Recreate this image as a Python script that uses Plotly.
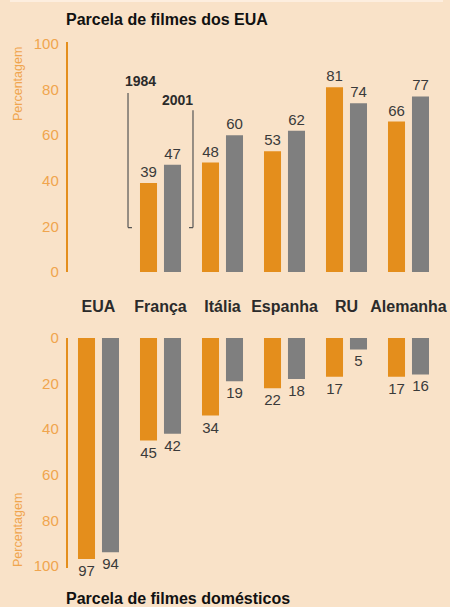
import plotly.graph_objects as go

categories = ["EUA", "França", "Itália", "Espanha", "RU", "Alemanha"]
us_share_1984 = [None, 39, 48, 53, 81, 66]
us_share_2001 = [None, 47, 60, 62, 74, 77]
dom_share_1984 = [97, 45, 34, 22, 17, 17]
dom_share_2001 = [94, 42, 19, 18, 5, 16]
years = ["1984", "2001"]
tick_vals = [0, 20, 40, 60, 80, 100]
title_top = "Parcela de filmes dos EUA"
title_bottom = "Parcela de filmes domésticos"
axis_title = "Percentagem"

ORANGE = "#e48e1c"
GRAY = "#7f7f7f"
BG = "#f9e2c8"
TICK = "#f0a54e"
DARK = "#2b2b2b"
VAL = "#3a3a3a"
NARROW = "Liberation Sans Narrow, Arial Narrow, Liberation Sans, sans-serif"
SANS = "Liberation Sans, Arial, sans-serif"

H = 607.0
W = 450.0


def lbl(vals):
    return ["" if v is None else str(v) for v in vals]


fig = go.Figure()
for vals, col, name in [(us_share_1984, ORANGE, years[0]), (us_share_2001, GRAY, years[1])]:
    fig.add_trace(go.Bar(x=categories, y=vals, name=name, marker=dict(color=col, line=dict(width=0)),
                         text=lbl(vals), textposition="outside", cliponaxis=False,
                         constraintext="none",
                         textfont=dict(family=NARROW, size=15, color=VAL),
                         xaxis="x", yaxis="y", hoverinfo="skip"))
for vals, col, name in [(dom_share_1984, ORANGE, years[0]), (dom_share_2001, GRAY, years[1])]:
    fig.add_trace(go.Bar(x=categories, y=vals, name=name, marker=dict(color=col, line=dict(width=0)),
                         text=lbl(vals), textposition="outside", cliponaxis=False,
                         constraintext="none",
                         textfont=dict(family=NARROW, size=15, color=VAL),
                         xaxis="x2", yaxis="y2", hoverinfo="skip"))

xdom = [67.5 / W, 439.5 / W]
top_dom = [1 - 272 / H, 1 - 42 / H]
bot_dom = [1 - 568 / H, 1 - 338 / H]

common_y = dict(tickvals=tick_vals, showgrid=False, zeroline=False, showline=True,
                linecolor=ORANGE, linewidth=1.5, ticks="", automargin=False,
                tickfont=dict(family=NARROW, size=15, color=TICK), ticklabelstandoff=4)

fig.update_layout(
    template="none",
    width=450, height=607, autosize=False,
    margin=dict(l=0, r=0, t=0, b=0, pad=0),
    paper_bgcolor=BG, plot_bgcolor=BG,
    barmode="group", bargap=0.226, bargroupgap=0.29,
    showlegend=False,
    xaxis=dict(domain=xdom, anchor="y", type="category", range=[-0.5, 5.5], automargin=False,
               showticklabels=False, showgrid=False, zeroline=False, showline=False, ticks=""),
    yaxis=dict(domain=top_dom, anchor="x", range=[0, 100.9], **common_y),
    xaxis2=dict(domain=xdom, anchor="y2", type="category", range=[-0.5, 5.5], side="top",
                showgrid=False, zeroline=False, showline=False, ticks="", automargin=False,
                tickfont=dict(family=SANS, size=16, color=DARK, weight="bold"),
                ticklabelstandoff=22),
    yaxis2=dict(domain=bot_dom, anchor="x2", range=[100.9, 0], **common_y),
)

# brackets for the years
bracket = dict(color="#555555", width=1.2)
shapes = [
    dict(type="line", xref="x", yref="y", x0=0.476, x1=0.476, y0=19.5, y1=78.5, line=bracket),
    dict(type="line", xref="x", yref="y", x0=0.476, x1=0.54, y0=19.5, y1=19.5, line=bracket),
    dict(type="line", xref="x", yref="y", x0=1.524, x1=1.524, y0=19.5, y1=71, line=bracket),
    dict(type="line", xref="x", yref="y", x0=1.46, x1=1.524, y0=19.5, y1=19.5, line=bracket),
    dict(type="line", xref="paper", yref="paper", x0=10 / W, x1=443 / W, y0=1 - 1 / H, y1=1 - 1 / H,
         line=dict(color="#fdeedf", width=2)),
]
fig.update_layout(shapes=shapes)

ann = [
    dict(text=years[0], xref="x", yref="y", x=0.68, y=83.8, showarrow=False,
         font=dict(family=SANS, size=14, color=DARK, weight="bold")),
    dict(text=years[1], xref="x", yref="y", x=1.28, y=75.4, showarrow=False,
         font=dict(family=SANS, size=14, color=DARK, weight="bold")),
    dict(text=title_top, xref="paper", yref="paper", x=64 / W, y=1 - 20 / H, xanchor="left",
         yanchor="middle", showarrow=False, font=dict(family=SANS, size=16, color="#111111", weight="bold")),
    dict(text=title_bottom, xref="paper", yref="paper", x=64 / W, y=1 - 598 / H, xanchor="left",
         yanchor="middle", showarrow=False, font=dict(family=SANS, size=16, color="#111111", weight="bold")),
    dict(text=axis_title, xref="paper", yref="paper", x=18 / W, y=1 - 45 / H, xanchor="center",
         yanchor="top", textangle=-90, showarrow=False, font=dict(family=NARROW, size=12.5, color=TICK)),
    dict(text=axis_title, xref="paper", yref="paper", x=18 / W, y=1 - 569 / H, xanchor="center",
         yanchor="bottom", textangle=-90, showarrow=False, font=dict(family=NARROW, size=12.5, color=TICK)),
]
fig.update_layout(annotations=ann)

page_fix = ("document.body.style.margin='0';document.body.style.overflow='hidden';"
            "document.body.style.background='" + BG + "';")
fig.write_html("out.html", post_script=page_fix, config={"displayModeBar": False})
